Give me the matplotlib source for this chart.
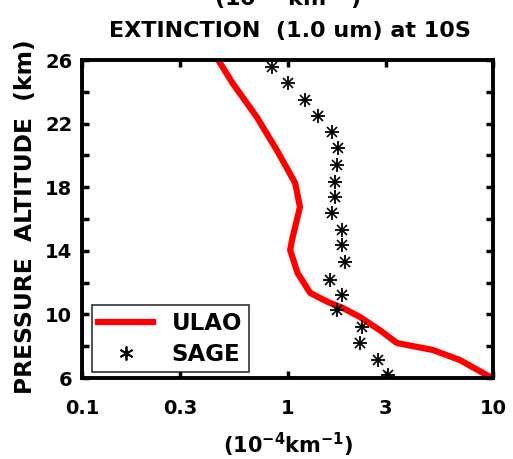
import matplotlib
matplotlib.use('Agg')
import matplotlib.pyplot as plt
from matplotlib.ticker import FixedLocator, NullLocator
from matplotlib.lines import Line2D

# ULAO extinction profile (1e-4 km^-1) vs pressure altitude (km)
ulao_alt = [26.0, 24.55, 22.4, 20.3, 18.26, 16.75, 14.87, 14.05, 12.6, 11.35,
            10.8, 10.4, 9.84, 9.0, 8.2, 7.76, 7.13, 6.06]
ulao_ext = [0.46, 0.54, 0.71, 0.89, 1.09, 1.15, 1.06, 1.03, 1.12, 1.29,
            1.56, 1.86, 2.25, 2.82, 3.41, 5.1, 6.9, 9.7]

# SAGE points
sage_alt = [25.56, 24.55, 23.5, 22.5, 21.47, 20.47, 19.4, 18.33, 17.38, 16.38,
            15.3, 14.36, 13.3, 12.16, 11.2, 10.28, 9.2, 8.2, 7.13, 6.19]
sage_ext = [0.84, 1.0, 1.22, 1.41, 1.65, 1.76, 1.74, 1.70, 1.70, 1.65,
            1.84, 1.84, 1.91, 1.61, 1.84, 1.74, 2.31, 2.25, 2.75, 3.08]

x_ticks = [0.1, 0.3, 1, 3, 10]
x_labels = ['0.1', '0.3', '1', '3', '10']
y_ticks = [6, 10, 14, 18, 22, 26]
y_minor = [8, 12, 16, 20, 24]

plt.rcParams['font.family'] = ['DejaVu Sans']
plt.rcParams['font.weight'] = 'bold'
plt.rcParams['mathtext.default'] = 'bf'

W, H = 513, 459
fig = plt.figure(figsize=(W / 100, H / 100), dpi=100)
ax = fig.add_axes([82 / W, 1 - 378 / H, 411 / W, 318 / H])

ax.plot(ulao_ext, ulao_alt, color='#ff0000', lw=4.5, solid_capstyle='butt')
# MATLAB-style asterisk: a "+" and an "x" on top of each other
ax.plot(sage_ext, sage_alt, ls='none', marker='x', color='black', ms=7,
        markeredgewidth=1.2)
ax.plot(sage_ext, sage_alt, ls='none', marker='+', color='black', ms=10,
        markeredgewidth=1.3)

ax.set_xscale('log')
ax.set_xlim(0.1, 10)
ax.set_ylim(6, 26)
ax.xaxis.set_major_locator(FixedLocator(x_ticks))
ax.xaxis.set_minor_locator(NullLocator())
ax.set_xticklabels(x_labels)
ax.yaxis.set_major_locator(FixedLocator(y_ticks))
ax.yaxis.set_minor_locator(FixedLocator(y_minor))

for s in ax.spines.values():
    s.set_linewidth(2.8)
ax.tick_params(which='both', direction='in', top=True, right=True,
               length=5, width=2.5, labelsize=14)
ax.tick_params(axis='x', which='both', pad=15)
ax.tick_params(axis='y', which='both', pad=7)
for lab in ax.get_xticklabels() + ax.get_yticklabels():
    lab.set_fontweight('bold')

fig.text(288 / W, 1 - 445 / H, r'(10$^{-4}$km$^{-1}$)', ha='center', va='center',
         fontsize=15, fontweight='bold')
fig.text(26 / W, 1 - 217 / H, 'PRESSURE  ALTITUDE  (km)', ha='center', va='center',
         rotation=90, fontsize=16.8, fontweight='bold')

fig.text(290 / W, 1 - 37 / H, 'EXTINCTION  (1.0 um) at 10S', ha='center', va='baseline',
         fontsize=16, fontweight='bold')
fig.text(287 / W, 1 - 6 / H, r'(10$^{-4}$ km$^{-1}$)', ha='center', va='baseline',
         fontsize=16, fontweight='bold')

handles = [Line2D([], [], color='#ff0000', lw=4.5),
           Line2D([], [], ls='none', marker=(6, 2, 0), color='black', ms=10,
                  markeredgewidth=1.3)]
leg = ax.legend(handles, ['ULAO', 'SAGE'], loc='lower left', bbox_to_anchor=(0.012, 0.003),
                prop={'size': 16.5, 'weight': 'bold'}, frameon=True, fancybox=False,
                edgecolor='black', handlelength=2.4, handletextpad=0.8,
                borderpad=0.3, labelspacing=0.32, borderaxespad=0.2)
leg.get_frame().set_linewidth(1.2)

fig.savefig('out.png', dpi=100)
